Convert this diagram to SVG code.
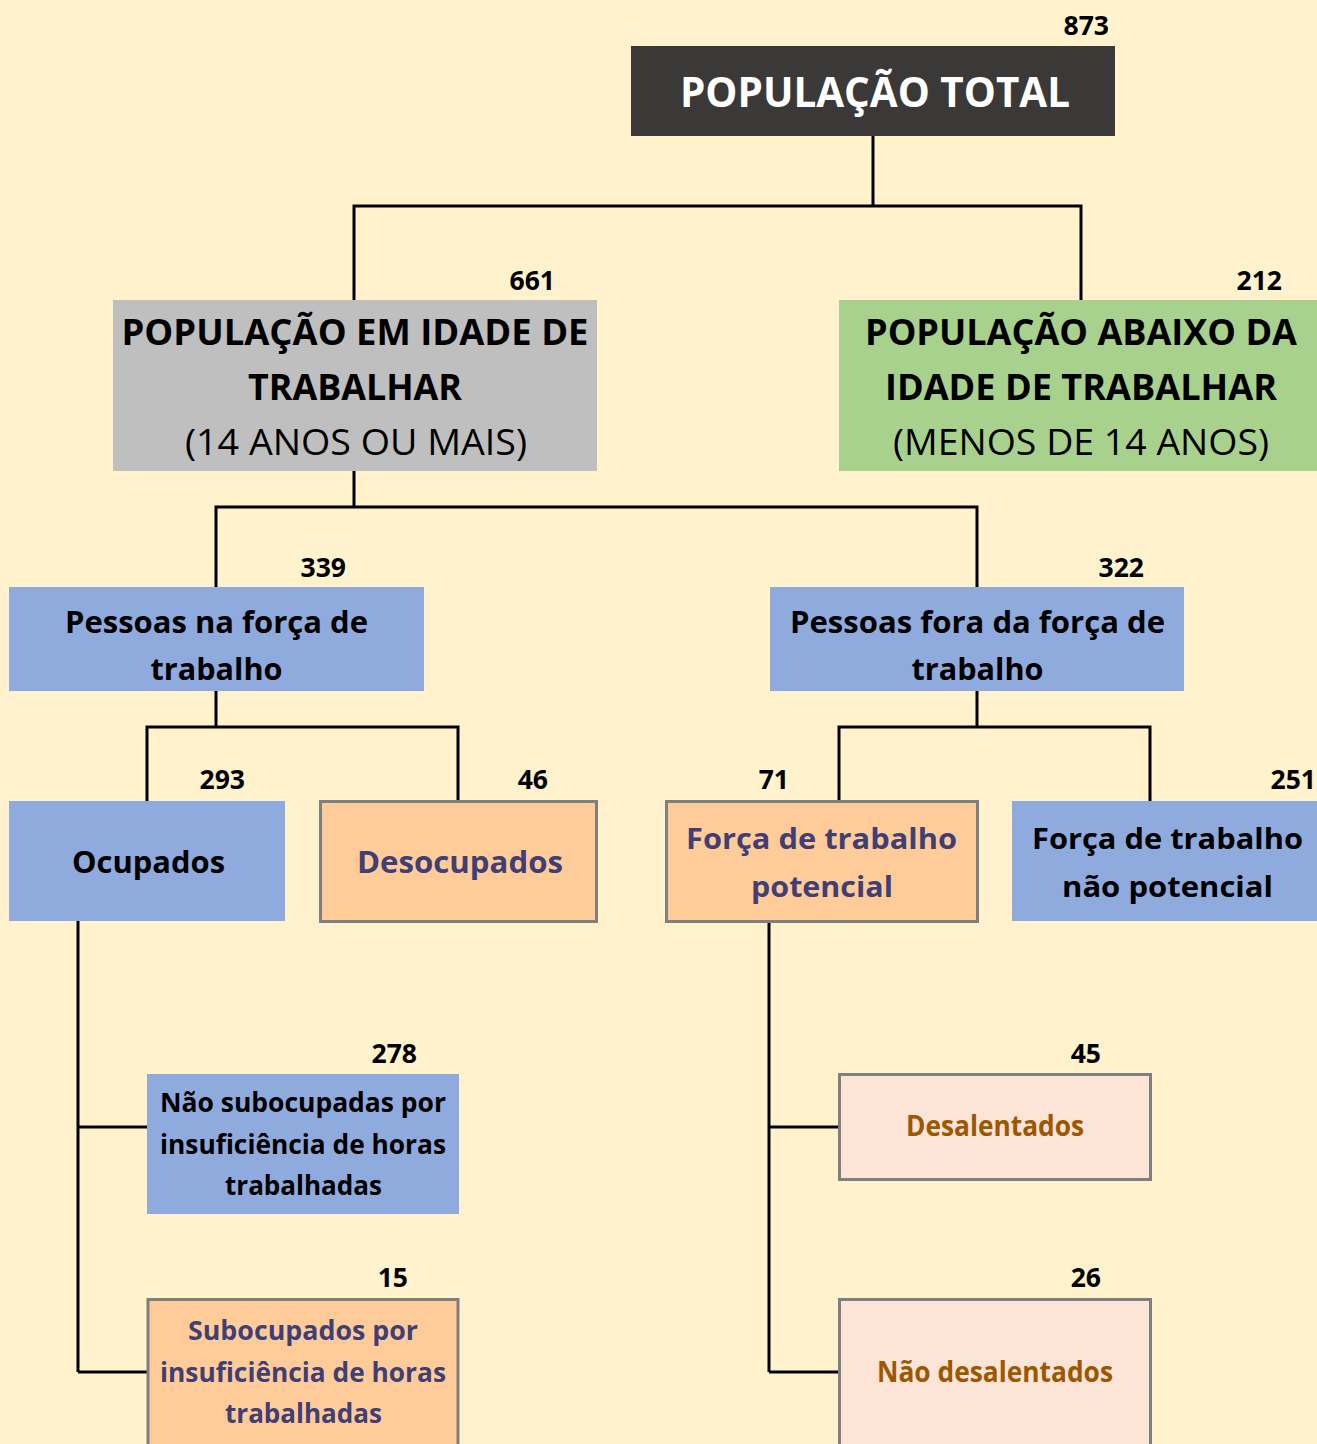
<svg xmlns="http://www.w3.org/2000/svg" width="1317" height="1444" viewBox="0 0 1317 1444">
<style>
text{font-family:"Open Sans","Noto Sans","Liberation Sans",sans-serif;font-weight:700;}
.num{font-size:26.5px;fill:#000;text-anchor:end;}
.c{text-anchor:middle;}
.w{fill:#fff;}
.k{fill:#000;}
.ib{fill:#3F3F76;}
.br{fill:#9C5700;}
.reg{font-weight:400;}
.blue{fill:#8FAADC;}
.input{fill:#FFCC99;stroke:#7F7F7F;stroke-width:3;}
.pink{fill:#FCE4D6;stroke:#7F7F7F;stroke-width:3;}
.conn{fill:none;stroke:#000;stroke-width:3;}
</style>
<rect width="1317" height="1444" fill="#FFF2CC"/>
<g id="connectors" class="conn">
<path d="M873 135V206M354 300V206H1081V300"/>
<path d="M354 471V507M216 587V507H977V587"/>
<path d="M216 691V727M147 801V727H458V801"/>
<path d="M977 691V727M839 801V727H1150V801"/>
<path d="M78 920V1372M78 1127H148M78 1372H148"/>
<path d="M769 921V1372M769 1127H839M769 1372H839"/>
</g>
<g id="total">
<rect x="631" y="46" width="484" height="90" fill="#3B3838"/>
<text class="c w" x="875" y="107" font-size="42" textLength="390" lengthAdjust="spacingAndGlyphs">POPULAÇÃO TOTAL</text>
<text class="num" x="1109" y="35">873</text>
</g>
<g id="idade-trabalhar">
<rect x="113" y="300" width="484" height="171" fill="#BFBFBF"/>
<text class="c k" x="355" y="345" font-size="36" textLength="467" lengthAdjust="spacingAndGlyphs">POPULAÇÃO EM IDADE DE</text>
<text class="c k" x="355" y="400" font-size="36" textLength="214" lengthAdjust="spacingAndGlyphs">TRABALHAR</text>
<text class="c k reg" x="356" y="455" font-size="36" textLength="342" lengthAdjust="spacingAndGlyphs">(14 ANOS OU MAIS)</text>
<text class="num" x="555" y="290">661</text>
</g>
<g id="abaixo-idade">
<rect x="839" y="300" width="478" height="171" fill="#A9D18E"/>
<text class="c k" x="1081" y="345" font-size="36" textLength="432" lengthAdjust="spacingAndGlyphs">POPULAÇÃO ABAIXO DA</text>
<text class="c k" x="1081" y="400" font-size="36" textLength="392" lengthAdjust="spacingAndGlyphs">IDADE DE TRABALHAR</text>
<text class="c k reg" x="1081" y="455" font-size="36" textLength="376" lengthAdjust="spacingAndGlyphs">(MENOS DE 14 ANOS)</text>
<text class="num" x="1282" y="290">212</text>
</g>
<g id="na-forca">
<rect class="blue" x="9" y="587" width="415" height="104"/>
<text class="c k" x="216.5" y="633" font-size="30" textLength="303" lengthAdjust="spacingAndGlyphs">Pessoas na força de</text>
<text class="c k" x="216.5" y="680" font-size="30" textLength="132" lengthAdjust="spacingAndGlyphs">trabalho</text>
<text class="num" x="346" y="577">339</text>
</g>
<g id="fora-forca">
<rect class="blue" x="770" y="587" width="414" height="104"/>
<text class="c k" x="977.5" y="633" font-size="30" textLength="375" lengthAdjust="spacingAndGlyphs">Pessoas fora da força de</text>
<text class="c k" x="977.5" y="680" font-size="30" textLength="132" lengthAdjust="spacingAndGlyphs">trabalho</text>
<text class="num" x="1144" y="577">322</text>
</g>
<g id="ocupados">
<rect class="blue" x="9" y="801" width="276" height="120"/>
<text class="c k" x="148.5" y="873" font-size="31" textLength="153" lengthAdjust="spacingAndGlyphs">Ocupados</text>
<text class="num" x="245" y="789">293</text>
</g>
<g id="desocupados">
<rect class="input" x="320.5" y="801.5" width="276" height="120"/>
<text class="c ib" x="460" y="873" font-size="31" textLength="206" lengthAdjust="spacingAndGlyphs">Desocupados</text>
<text class="num" x="548" y="789">46</text>
</g>
<g id="forca-potencial">
<rect class="input" x="666.5" y="801.5" width="311" height="120"/>
<text class="c ib" x="821.5" y="849" font-size="29" textLength="271" lengthAdjust="spacingAndGlyphs">Força de trabalho</text>
<text class="c ib" x="822" y="897" font-size="29" textLength="142" lengthAdjust="spacingAndGlyphs">potencial</text>
<text class="num" x="789" y="789">71</text>
</g>
<g id="forca-nao-potencial">
<rect class="blue" x="1012" y="801" width="305" height="120"/>
<text class="c k" x="1167.5" y="849" font-size="29" textLength="271" lengthAdjust="spacingAndGlyphs">Força de trabalho</text>
<text class="c k" x="1167.5" y="897" font-size="29" textLength="211" lengthAdjust="spacingAndGlyphs">não potencial</text>
<text class="num" x="1316" y="789">251</text>
</g>
<g id="nao-subocupadas">
<rect class="blue" x="147" y="1074" width="312" height="140"/>
<text class="c k" x="303" y="1112" font-size="26" textLength="286" lengthAdjust="spacingAndGlyphs">Não subocupadas por</text>
<text class="c k" x="303" y="1154" font-size="26" textLength="286" lengthAdjust="spacingAndGlyphs">insuficiência de horas</text>
<text class="c k" x="303.5" y="1195" font-size="26" textLength="157" lengthAdjust="spacingAndGlyphs">trabalhadas</text>
<text class="num" x="417" y="1063">278</text>
</g>
<g id="subocupados">
<rect class="input" x="148" y="1299.5" width="310" height="160"/>
<text class="c ib" x="303" y="1340" font-size="26" textLength="230" lengthAdjust="spacingAndGlyphs">Subocupados por</text>
<text class="c ib" x="303" y="1382" font-size="26" textLength="286" lengthAdjust="spacingAndGlyphs">insuficiência de horas</text>
<text class="c ib" x="303.5" y="1423" font-size="26" textLength="157" lengthAdjust="spacingAndGlyphs">trabalhadas</text>
<text class="num" x="408" y="1287">15</text>
</g>
<g id="desalentados">
<rect class="pink" x="839.5" y="1074.5" width="311" height="105"/>
<text class="c br" x="995" y="1136" font-size="28" textLength="178" lengthAdjust="spacingAndGlyphs">Desalentados</text>
<text class="num" x="1101" y="1063">45</text>
</g>
<g id="nao-desalentados">
<rect class="pink" x="839.5" y="1299.5" width="311" height="160"/>
<text class="c br" x="995" y="1382" font-size="28" textLength="236" lengthAdjust="spacingAndGlyphs">Não desalentados</text>
<text class="num" x="1101" y="1287">26</text>
</g>
</svg>
